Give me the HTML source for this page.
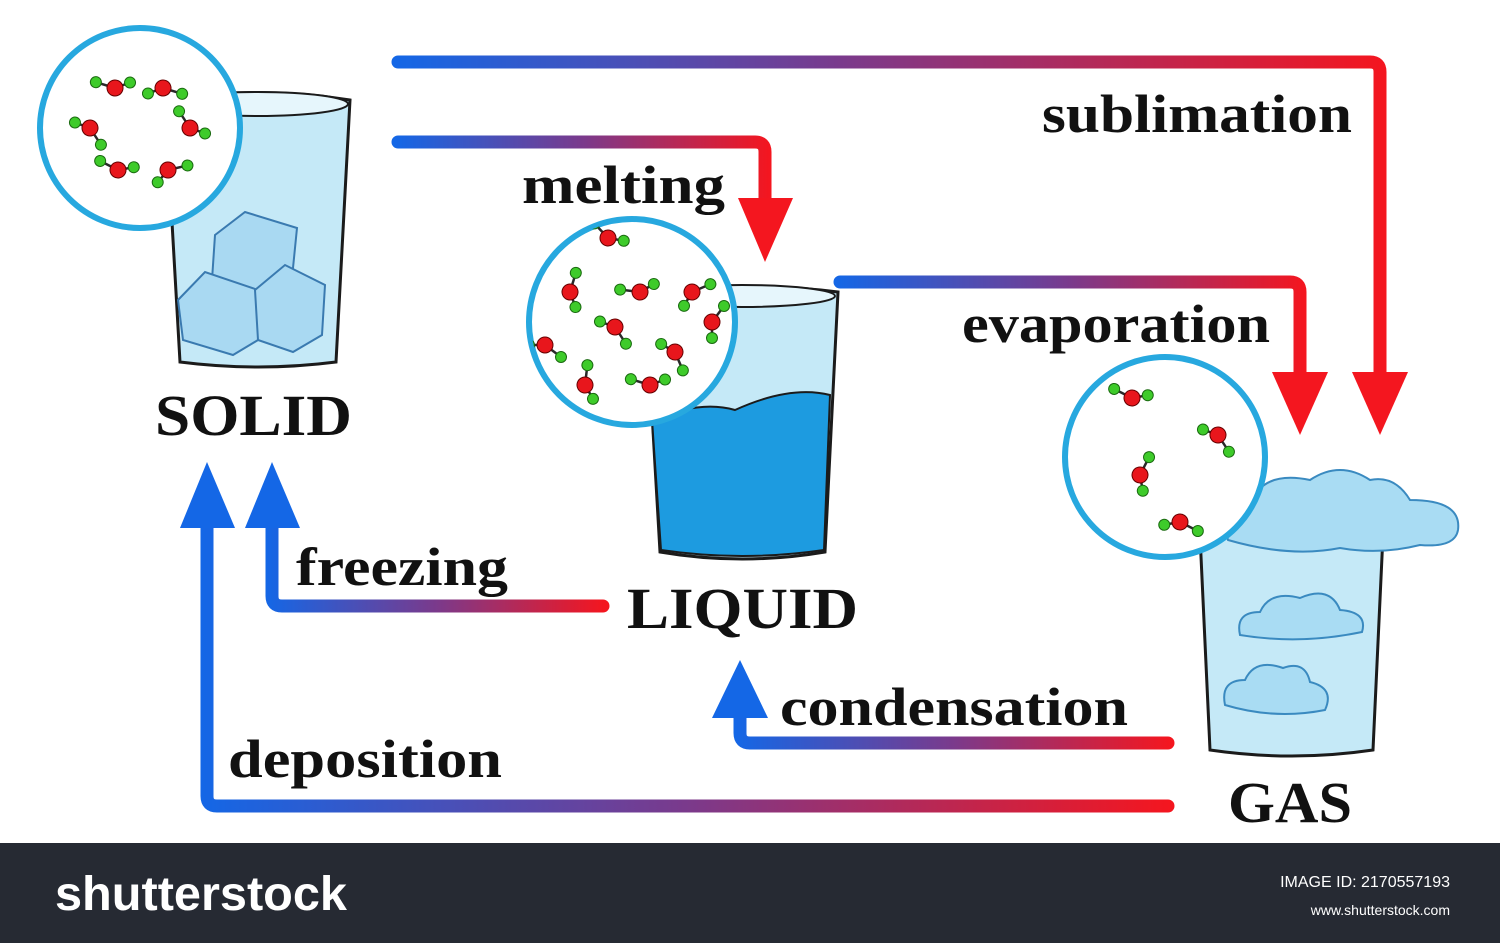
<!DOCTYPE html>
<html><head><meta charset="utf-8"><style>
html,body{margin:0;padding:0;background:#fff;}
svg{display:block}
</style></head><body>
<svg width="1500" height="943" viewBox="0 0 1500 943" xmlns="http://www.w3.org/2000/svg">
<defs>
<linearGradient id="gR" gradientUnits="userSpaceOnUse" x1="395" y1="0" x2="1385" y2="0"><stop offset="0" stop-color="#1467e6"/><stop offset="0.45" stop-color="#7a3a8c"/><stop offset="1" stop-color="#f4161f"/></linearGradient>
<linearGradient id="gM" gradientUnits="userSpaceOnUse" x1="395" y1="0" x2="770" y2="0"><stop offset="0" stop-color="#1467e6"/><stop offset="0.5" stop-color="#7a3a8c"/><stop offset="1" stop-color="#f4161f"/></linearGradient>
<linearGradient id="gE" gradientUnits="userSpaceOnUse" x1="835" y1="0" x2="1305" y2="0"><stop offset="0" stop-color="#1467e6"/><stop offset="0.5" stop-color="#7a3a8c"/><stop offset="1" stop-color="#f4161f"/></linearGradient>
<linearGradient id="gF" gradientUnits="userSpaceOnUse" x1="266" y1="0" x2="605" y2="0"><stop offset="0" stop-color="#1467e6"/><stop offset="0.5" stop-color="#7a3a8c"/><stop offset="1" stop-color="#f4161f"/></linearGradient>
<linearGradient id="gD" gradientUnits="userSpaceOnUse" x1="200" y1="0" x2="1170" y2="0"><stop offset="0" stop-color="#1467e6"/><stop offset="0.5" stop-color="#7a3a8c"/><stop offset="1" stop-color="#f4161f"/></linearGradient>
<linearGradient id="gC" gradientUnits="userSpaceOnUse" x1="735" y1="0" x2="1170" y2="0"><stop offset="0" stop-color="#1467e6"/><stop offset="0.5" stop-color="#7a3a8c"/><stop offset="1" stop-color="#f4161f"/></linearGradient>
<g id="mol"><line x1="-16" y1="-12" x2="0" y2="0" stroke="#2a2a2a" stroke-width="2.5"/><line x1="16" y1="0" x2="0" y2="0" stroke="#2a2a2a" stroke-width="2.5"/><circle cx="0" cy="0" r="8" fill="#e8161c" stroke="#600" stroke-width="1"/><circle cx="-16" cy="-12" r="5.5" fill="#3ecb2a" stroke="#1a6a10" stroke-width="1"/><circle cx="16" cy="0" r="5.5" fill="#3ecb2a" stroke="#1a6a10" stroke-width="1"/></g>
<clipPath id="c1"><circle cx="140" cy="128" r="98"/></clipPath>
<clipPath id="c2"><circle cx="632" cy="322" r="101"/></clipPath>
<clipPath id="c3"><circle cx="1165" cy="457" r="98"/></clipPath>
</defs>

<!-- arrows -->
<g fill="none" stroke-width="13" stroke-linecap="round" stroke-linejoin="round">
<path d="M398 62 H1370 Q1380 62 1380 72 V385" stroke="url(#gR)"/>
<path d="M398 142 H755 Q765 142 765 152 V205" stroke="url(#gM)"/>
<path d="M840 282 H1290 Q1300 282 1300 292 V375" stroke="url(#gE)"/>
<path d="M603 606 H282 Q272 606 272 596 V520" stroke="url(#gF)"/>
<path d="M1168 806 H217 Q207 806 207 796 V520" stroke="url(#gD)"/>
<path d="M1168 743 H750 Q740 743 740 733 V712" stroke="url(#gC)"/>
</g>
<g fill="#f4161f"><polygon points="1352,372 1408,372 1380,435"/><polygon points="738,198 793,198 765,262"/><polygon points="1272,372 1328,372 1300,435"/></g>
<g fill="#1467e6"><polygon points="245,528 300,528 272,462"/><polygon points="180,528 235,528 207,462"/><polygon points="712,718 768,718 740,660"/></g>

<!-- solid glass -->
<path d="M165 100 Q258 85 350 100 L336 362 Q258 372 180 362 Z" fill="#c5e9f7" stroke="#1b1b1b" stroke-width="3"/>
<ellipse cx="258" cy="104" rx="90" ry="12" fill="#e6f6fc" stroke="#1b1b1b" stroke-width="2"/>
<g fill="#a9d9f2" stroke="#3a7ab0" stroke-width="2">
<path d="M215 235 L245 212 L297 228 L292 278 L262 295 L212 280 Z"/>
<path d="M178 300 L205 272 L258 290 L258 340 L233 355 L183 340 Z"/>
<path d="M255 290 L285 265 L325 285 L322 335 L293 352 L258 340 Z"/>
</g>
<circle cx="140" cy="128" r="100" fill="#fff" stroke="#27a8df" stroke-width="6"/>
<g clip-path="url(#c1)">
<use href="#mol" transform="translate(115,88) rotate(-20)"/>
<use href="#mol" transform="translate(163,88) rotate(160)"/>
<use href="#mol" transform="translate(190,128) rotate(20)"/>
<use href="#mol" transform="translate(168,170) rotate(130)"/>
<use href="#mol" transform="translate(118,170) rotate(-10)"/>
<use href="#mol" transform="translate(90,128) rotate(200)"/>
</g>

<!-- liquid glass -->
<path d="M645 292 Q742 280 838 292 L825 552 Q742 566 660 552 Z" fill="#c5e9f7" stroke="#1b1b1b" stroke-width="3"/>
<path d="M652 420 Q700 400 735 410 Q790 385 830 395 L824 550 Q742 562 661 550 Z" fill="#1d9be0" stroke="#1b1b1b" stroke-width="2"/>
<ellipse cx="742" cy="296" rx="93" ry="11" fill="#e6f6fc" stroke="#1b1b1b" stroke-width="2"/>
<circle cx="632" cy="322" r="103" fill="#fff" stroke="#27a8df" stroke-width="6"/>
<g clip-path="url(#c2)">
<use href="#mol" transform="translate(608,238) rotate(10)"/>
<use href="#mol" transform="translate(570,292) rotate(70)"/>
<use href="#mol" transform="translate(640,292) rotate(-30)"/>
<use href="#mol" transform="translate(692,292) rotate(120)"/>
<use href="#mol" transform="translate(615,327) rotate(200)"/>
<use href="#mol" transform="translate(675,352) rotate(-150)"/>
<use href="#mol" transform="translate(585,385) rotate(60)"/>
<use href="#mol" transform="translate(650,385) rotate(-20)"/>
<use href="#mol" transform="translate(545,345) rotate(180)"/>
<use href="#mol" transform="translate(712,322) rotate(90)"/>
</g>

<!-- gas glass -->
<path d="M1198 492 Q1292 480 1385 492 L1373 750 Q1292 762 1210 750 Z" fill="#c5e9f7" stroke="#1b1b1b" stroke-width="3"/>
<g fill="#a9dcf3" stroke="#3a8ac0" stroke-width="2">
<path d="M1240 635 Q1235 612 1260 612 Q1270 590 1300 598 Q1330 585 1340 610 Q1368 612 1362 632 Q1300 645 1240 635 Z"/>
<path d="M1225 705 Q1220 680 1245 680 Q1255 658 1283 668 Q1305 660 1310 682 Q1335 688 1325 710 Q1275 720 1225 705 Z"/>
<path d="M1228 540 Q1220 510 1250 505 Q1262 470 1310 480 Q1340 460 1370 480 Q1395 475 1410 500 Q1462 500 1458 530 Q1455 548 1420 545 Q1380 555 1340 548 Q1290 558 1228 540 Z"/>
</g>
<circle cx="1165" cy="457" r="100" fill="#fff" stroke="#27a8df" stroke-width="6"/>
<g clip-path="url(#c3)">
<use href="#mol" transform="translate(1132,398) rotate(-10)"/>
<use href="#mol" transform="translate(1218,435) rotate(200)"/>
<use href="#mol" transform="translate(1140,475) rotate(80)"/>
<use href="#mol" transform="translate(1180,522) rotate(170)"/>
</g>

<!-- labels -->
<g font-family="Liberation Serif, serif" font-weight="bold" fill="#111">
<text x="1042" y="132" font-size="54" textLength="310" lengthAdjust="spacingAndGlyphs">sublimation</text>
<text x="522" y="203" font-size="54" textLength="203" lengthAdjust="spacingAndGlyphs">melting</text>
<text x="962" y="342" font-size="54" textLength="308" lengthAdjust="spacingAndGlyphs">evaporation</text>
<text x="296" y="585" font-size="54" textLength="212" lengthAdjust="spacingAndGlyphs">freezing</text>
<text x="780" y="725" font-size="54" textLength="348" lengthAdjust="spacingAndGlyphs">condensation</text>
<text x="228" y="777" font-size="54" textLength="274" lengthAdjust="spacingAndGlyphs">deposition</text>
<text x="155" y="435" font-size="58" textLength="197" lengthAdjust="spacingAndGlyphs">SOLID</text>
<text x="627" y="628" font-size="58" textLength="231" lengthAdjust="spacingAndGlyphs">LIQUID</text>
<text x="1228" y="822" font-size="58" textLength="124" lengthAdjust="spacingAndGlyphs">GAS</text>
</g>

<!-- footer -->
<rect x="0" y="843" width="1500" height="100" fill="#262a33"/>
<text x="55" y="910" font-family="Liberation Sans, sans-serif" font-weight="bold" font-size="48" fill="#fff" textLength="292" lengthAdjust="spacingAndGlyphs">shutterstock</text>
<text x="1450" y="887" text-anchor="end" font-family="Liberation Sans, sans-serif" font-size="16" fill="#fff">IMAGE ID: 2170557193</text>
<text x="1450" y="915" text-anchor="end" font-family="Liberation Sans, sans-serif" font-size="14" fill="#fff">www.shutterstock.com</text>
</svg>
</body></html>
